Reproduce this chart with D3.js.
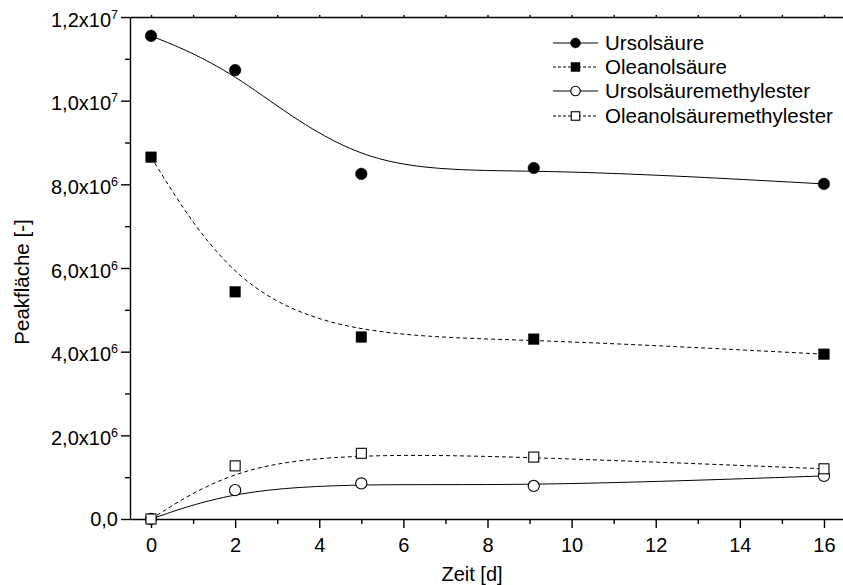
<!DOCTYPE html>
<html>
<head>
<meta charset="utf-8">
<script src="https://cdn.jsdelivr.net/npm/d3@7/dist/d3.min.js"></script>
<style>
  html, body { margin: 0; padding: 0; background: #fff; }
  svg { display: block; font-family: Arial, "Liberation Sans", Helvetica, sans-serif; }
</style>
</head>
<body>
<svg id="chart" width="843" height="585"></svg>
<script>
// Storage time in days
const days = [0, 2, 5, 9.1, 16];

// Peak areas per compound
const ursolsaeure = [1.155e7, 1.073e7, 8.25e6, 8.39e6, 8.01e6];
const oleanolsaeure = [8.65e6, 5.43e6, 4.35e6, 4.30e6, 3.94e6];
const ursolsaeureMethylester = [0, 6.9e5, 8.5e5, 7.9e5, 1.03e6];
const oleanolsaeureMethylester = [0, 1.27e6, 1.57e6, 1.48e6, 1.20e6];

const seriesNames = ["Ursolsäure", "Oleanolsäure", "Ursolsäuremethylester", "Oleanolsäuremethylester"];

// Axis ticks and labels
const xMajorTicks = [0, 2, 4, 6, 8, 10, 12, 14, 16];
const xMinorTicks = [1, 3, 5, 7, 9, 11, 13, 15];
const yMajorTicks = [0, 2e6, 4e6, 6e6, 8e6, 1e7, 1.2e7];
const yMinorTicks = [1e6, 3e6, 5e6, 7e6, 9e6, 1.1e7];
const yTickMantissa = ["0,0", "2,0", "4,0", "6,0", "8,0", "1,0", "1,2"];
const yTickExponent = ["", "6", "6", "6", "6", "7", "7"];

const xTitle = "Zeit [d]";
const yTitle = "Peakfläche [-]";

const svg = d3.select("#chart");

const x = d3.scaleLinear().domain([-0.5, 16.5]).range([130, 845]);
const y = d3.scaleLinear().domain([0, 1.2e7]).range([519, 17]);

const tickFont = 20;

// Bottom axis: major ticks with labels, minor ticks without
const xAxisG = svg.append("g").attr("transform", `translate(0,${y(0)})`)
  .call(d3.axisBottom(x).tickValues(xMajorTicks).tickSize(9).tickSizeOuter(0).tickPadding(10));
svg.append("g").attr("transform", `translate(0,${y(0)})`)
  .call(d3.axisBottom(x).tickValues(xMinorTicks).tickSize(5).tickFormat(""))
  .call(g => g.select(".domain").remove());
xAxisG.selectAll("text").attr("font-size", tickFont).attr("font-family", "Arial, 'Liberation Sans', sans-serif").attr("fill", "#000");

// Top frame line with small ticks
svg.append("g").attr("transform", `translate(0,${y(1.2e7)})`)
  .call(d3.axisTop(x).tickValues(d3.range(0, 17, 1)).tickSize(2).tickSizeOuter(0).tickFormat(""));

// Left axis
svg.append("g").attr("transform", `translate(${x(-0.5)},0)`)
  .call(d3.axisLeft(y).tickValues(yMajorTicks).tickSize(9).tickSizeOuter(0).tickFormat(""));
svg.append("g").attr("transform", `translate(${x(-0.5)},0)`)
  .call(d3.axisLeft(y).tickValues(yMinorTicks).tickSize(5).tickFormat(""))
  .call(g => g.select(".domain").remove());

svg.selectAll(".domain, .tick line").attr("stroke", "#000").attr("stroke-width", 1.4);

// Y tick labels in scientific notation with superscript exponents
const yLabels = svg.append("g").attr("font-size", tickFont).attr("fill", "#000").attr("text-anchor", "end");
yMajorTicks.forEach((v, i) => {
  const t = yLabels.append("text")
    .attr("x", x(-0.5) - 12)
    .attr("y", y(v) + (yTickExponent[i] ? 9.5 : 7));
  t.append("tspan").text(yTickMantissa[i] + (yTickExponent[i] ? "x10" : ""));
  if (yTickExponent[i]) {
    t.append("tspan").attr("font-size", 12.5).attr("dy", -8).text(yTickExponent[i]);
  }
});

// Axis titles
svg.append("text").attr("x", 472).attr("y", 581).attr("text-anchor", "middle")
  .attr("font-size", 20).attr("fill", "#000").text(xTitle);
svg.append("text").attr("transform", "translate(29,282) rotate(-90)").attr("text-anchor", "middle")
  .attr("font-size", 20.5).attr("fill", "#000").text(yTitle);

// Series definitions
const series = [
  { name: seriesNames[0], values: ursolsaeure, dash: null, marker: "circle", filled: true },
  { name: seriesNames[1], values: oleanolsaeure, dash: "4,3", marker: "square", filled: true },
  { name: seriesNames[2], values: ursolsaeureMethylester, dash: null, marker: "circle", filled: false },
  { name: seriesNames[3], values: oleanolsaeureMethylester, dash: "4,3", marker: "square", filled: false }
];

const line = d3.line().x(d => x(d[0])).y(d => y(d[1])).curve(d3.curveBasis);

function drawMarker(g, cx, cy, s, scale) {
  if (s.marker === "circle") {
    const r = (s.filled ? 5.8 : 5.6) * scale;
    g.append("circle").attr("cx", cx).attr("cy", cy).attr("r", r)
      .attr("fill", s.filled ? "#000" : "#fff").attr("stroke", "#000").attr("stroke-width", s.filled ? 0.5 : 1.1);
  } else {
    const a = (s.filled ? 10.5 : 10) * scale;
    g.append("rect").attr("x", cx - a / 2).attr("y", cy - a / 2).attr("width", a).attr("height", a)
      .attr("fill", s.filled ? "#000" : "#fff").attr("stroke", "#000").attr("stroke-width", s.filled ? 0.5 : 1.1);
  }
}

const plot = svg.append("g");
series.forEach(s => {
  const pts = days.map((d, i) => [d, s.values[i]]);
  plot.append("path").attr("d", line(pts)).attr("fill", "none").attr("stroke", "#000")
    .attr("stroke-width", 1).attr("stroke-dasharray", s.dash);
});
series.forEach(s => {
  days.forEach((d, i) => drawMarker(plot, x(d), y(s.values[i]), s, 1));
});

// Legend
const legend = svg.append("g");
const legendRows = [43, 67, 91, 116];
series.forEach((s, i) => {
  const cy = legendRows[i];
  legend.append("line").attr("x1", 553).attr("x2", 598).attr("y1", cy).attr("y2", cy)
    .attr("stroke", "#000").attr("stroke-width", 1).attr("stroke-dasharray", s.dash ? "3,2" : null);
  drawMarker(legend, 575.5, cy, s, 0.85);
  legend.append("text").attr("x", 605).attr("y", cy + 7).attr("font-size", 20.5).attr("fill", "#000").text(s.name);
});
</script>
</body>
</html>
